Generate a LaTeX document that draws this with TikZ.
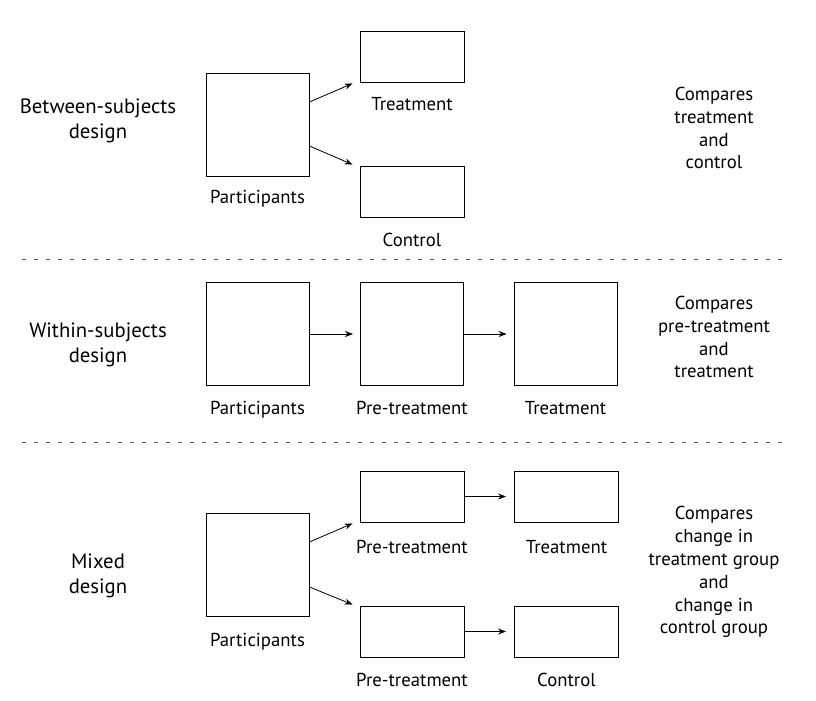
\documentclass[tikz,border=0pt]{standalone}
\usepackage{fontspec}
\setmainfont{PT Sans}
\usetikzlibrary{arrows.meta}
\begin{document}
\begin{tikzpicture}[x=1bp,y=-1bp,
  box/.style={draw=black,line width=0.9bp,inner sep=0pt,minimum width=#1},
  sq/.style={box=103bp,minimum height=103bp},
  rect/.style={box=104bp,minimum height=51bp},
  lbl/.style={anchor=base,inner sep=0pt,font=\fontsize{18.8}{23}\selectfont},
  side/.style={align=center,inner sep=0pt,font=\fontsize{18.8}{23}\selectfont},
  design/.style={align=center,inner sep=0pt,font=\fontsize{20.8}{25.5}\selectfont},
  arr/.style={line width=0.8bp,-{Stealth[length=8bp,width=6bp]}},
  sep/.style={gray!70!black,line width=1bp,dash pattern=on 3.6bp off 8.4bp}]
\useasboundingbox (0,0) rectangle (816,701);
% ---- Between-subjects
\node[sq] (p1) at (257.5,124.5) {};
\node[rect] (t1) at (412,56.5) {};
\node[rect] (c1) at (412,191.5) {};
\draw[arr] ([yshift=22.5bp]p1.east) -- ([xshift=-7bp,yshift=-1bp]t1.south west);
\draw[arr] ([yshift=-21.5bp]p1.east) -- ([xshift=-7bp,yshift=1bp]c1.north west);
\node[lbl] (lt1) at (412,111) {Treatment};
\node[lbl] (lp1) at (257.5,203) {Participants};
\node[lbl] (lc1) at (412,246) {Control};
\node[design] (d1) at (98,121) {Between-subjects\\design};
\node[side] (s1) at (714,128) {Compares\\treatment\\and\\control};
\draw[sep] (22,259) -- (790,259);
% ---- Within-subjects
\node[sq] (p2) at (257.5,334) {};
\node[sq] (q2) at (412,334) {};
\node[sq] (t2) at (565.5,334) {};
\draw[arr] (p2.east) -- ([xshift=-7bp]q2.west);
\draw[arr] (q2.east) -- ([xshift=-7bp]t2.west);
\node[lbl] (lp2) at (257.5,414) {Participants};
\node[lbl] (lq2) at (412,414) {Pre-treatment};
\node[lbl] (lt2) at (565.5,414) {Treatment};
\node[design] (d2) at (98,345) {Within-subjects\\design};
\node[side] (s2) at (714,337) {Compares\\pre-treatment\\and\\treatment};
\draw[sep] (22,442) -- (790,442);
% ---- Mixed
\node[sq] (p3) at (257.5,564.5) {};
\node[rect] (q3) at (412,496.5) {};
\node[rect] (t3) at (566.5,496.5) {};
\node[rect] (r3) at (412,631.5) {};
\node[rect] (c3) at (566.5,631.5) {};
\draw[arr] ([yshift=22.5bp]p3.east) -- ([xshift=-7bp,yshift=-1bp]q3.south west);
\draw[arr] ([yshift=-22.5bp]p3.east) -- ([xshift=-7bp,yshift=1bp]r3.north west);
\draw[arr] (q3.east) -- ([xshift=-8bp]t3.west);
\draw[arr] (r3.east) -- ([xshift=-8bp]c3.west);
\node[lbl] (lq3) at (412,553) {Pre-treatment};
\node[lbl] (lt3) at (566.5,553) {Treatment};
\node[lbl] (lp3) at (257.5,646) {Participants};
\node[lbl] (lr3) at (412,686) {Pre-treatment};
\node[lbl] (lc3) at (566.5,686) {Control};
\node[design] (d3) at (98,576) {Mixed\\design};
\node[side] (s3) at (714,572) {Compares\\change in\\treatment group\\and\\change in\\control group};
\end{tikzpicture}
\end{document}
